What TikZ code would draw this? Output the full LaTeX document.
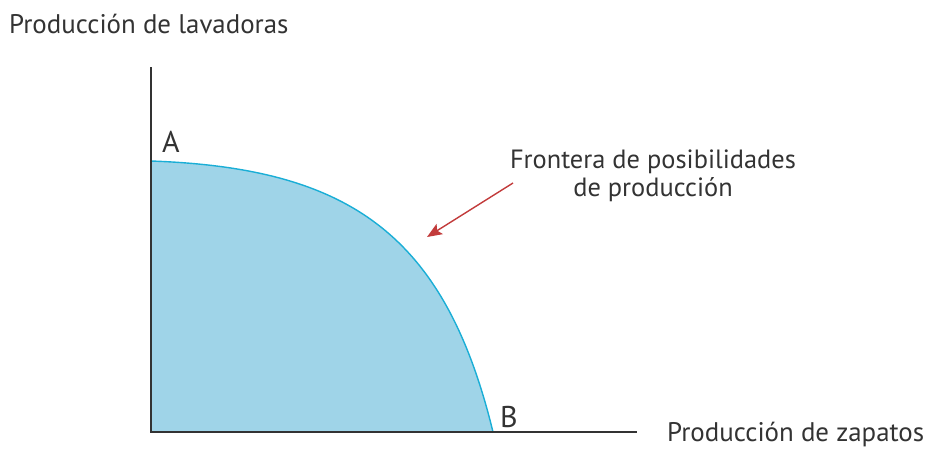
\documentclass[tikz,border=0pt]{standalone}
\usepackage{fontspec}
\setmainfont{PT Sans}
\usetikzlibrary{arrows.meta}
\definecolor{axisgray}{HTML}{333333}
\definecolor{curvecyan}{HTML}{1AAED6}
\definecolor{fillblue}{HTML}{9FD4E8}
\definecolor{arrowred}{HTML}{C23B3B}
\tikzset{
  axisline/.style={draw=axisgray, line width=2.4pt},
  frontier/.style={draw=curvecyan, line width=1.4pt},
  pointer/.style={draw=arrowred, line width=1.4pt, -{Stealth[length=15pt,width=12pt,inset=3pt]}},
  axislabel/.style={inner sep=0pt, font=\fontsize{26.9}{30}\selectfont, text=axisgray},
  ptlabel/.style={inner sep=0pt, font=\fontsize{30}{34}\selectfont, text=axisgray},
  notelabel/.style={inner sep=0pt, align=center, font=\fontsize{26.4}{28}\selectfont, text=axisgray}
}
\begin{document}
\begin{tikzpicture}[x=1pt,y=-1pt]
\useasboundingbox (0,0) rectangle (928,448);
\coordinate (O) at (151,432);
\coordinate (Ytop) at (151,67);
\coordinate (Xend) at (637,432);
\coordinate (A) at (151,161);
\coordinate (B) at (493,432);
\coordinate (arrowStart) at (513,183);
\coordinate (arrowTip) at (427,237);
\fill[fillblue] (O) -- (A) .. controls (350,168) and (445,235) .. (B) -- cycle;
\draw[frontier] (A) .. controls (350,168) and (445,235) .. (B);
\draw[axisline] (Ytop) -- (O) -- (Xend);
\draw[pointer] (arrowStart) -- (arrowTip);
\node[axislabel, anchor=base west] (ylab) at (9,33) {Producción de lavadoras};
\node[axislabel, anchor=base west] (xlab) at (667,441) {Producción de zapatos};
\node[ptlabel, anchor=base west] (alab) at (162,152) {A};
\node[ptlabel, anchor=base west] (blab) at (500,427) {B};
\node[notelabel] (note) at (653,176) {Frontera de posibilidades\\de producción};
\end{tikzpicture}
\end{document}
